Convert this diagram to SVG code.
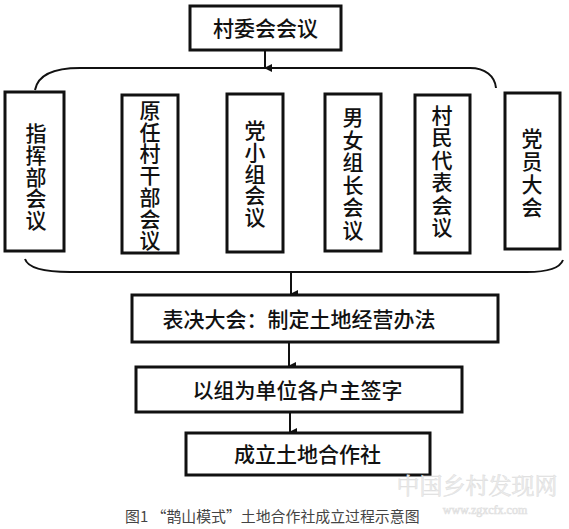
<svg xmlns="http://www.w3.org/2000/svg" width="569" height="529" viewBox="0 0 569 529">
<defs>
<marker id="ah" markerWidth="8" markerHeight="8" refX="4" refY="7" orient="auto" markerUnits="userSpaceOnUse">
<path d="M0,0 L8,0 L4,8 Z" fill="#111"/>
</marker>
<style>
.box{fill:#fff;stroke:#111;stroke-width:3}
.t{font-family:"Noto Sans CJK SC","Liberation Sans",sans-serif;font-size:21px;font-weight:500;fill:#111;text-anchor:middle}
.v{font-family:"Noto Sans CJK SC","Liberation Sans",sans-serif;font-size:21px;font-weight:500;fill:#111;text-anchor:middle}
.c{fill:none;stroke:#111;stroke-width:2}
</style>
</defs>
<rect width="569" height="529" fill="#fff"/>
<g id="connectors">
<line class="c" x1="265" y1="51" x2="265" y2="68" marker-end="url(#ah)"/>
<path class="c" d="M35,90 C38,74 55,68 80,68 L470,68 C485,68 495,76 496,88"/>
<path class="c" d="M25,259 C28,268 45,272 70,272 L527,272 C548,272 560,268 563,260"/>
<line class="c" x1="291" y1="272" x2="291" y2="294" marker-end="url(#ah)"/>
<line class="c" x1="289" y1="343" x2="289" y2="366" marker-end="url(#ah)"/>
<line class="c" x1="290" y1="413" x2="290" y2="432" marker-end="url(#ah)"/>
</g>
<g id="n-top"><rect class="box" x="190" y="6" width="151" height="44"/><text class="t" x="265.5" y="35.5">村委会会议</text></g>
<g id="n1"><rect class="box" x="5" y="92" width="59" height="159"/>
<text class="v" x="36" y="141"><tspan x="36">指</tspan><tspan x="36" dy="21.8">挥</tspan><tspan x="36" dy="21.8">部</tspan><tspan x="36" dy="21.8">会</tspan><tspan x="36" dy="21.8">议</tspan></text></g>
<g id="n2"><rect class="box" x="122" y="95" width="56" height="158"/>
<text class="v" x="150" y="118"><tspan x="150">原</tspan><tspan x="150" dy="21.7">任</tspan><tspan x="150" dy="21.7">村</tspan><tspan x="150" dy="21.7">干</tspan><tspan x="150" dy="21.7">部</tspan><tspan x="150" dy="21.7">会</tspan><tspan x="150" dy="21.7">议</tspan></text></g>
<g id="n3"><rect class="box" x="227" y="94" width="56" height="158"/>
<text class="v" x="255" y="138"><tspan x="255">党</tspan><tspan x="255" dy="21.8">小</tspan><tspan x="255" dy="21.8">组</tspan><tspan x="255" dy="21.8">会</tspan><tspan x="255" dy="21.8">议</tspan></text></g>
<g id="n4"><rect class="box" x="325" y="94" width="56" height="157"/>
<text class="v" x="353" y="125"><tspan x="353">男</tspan><tspan x="353" dy="22.6">女</tspan><tspan x="353" dy="22.6">组</tspan><tspan x="353" dy="22.6">长</tspan><tspan x="353" dy="22.6">会</tspan><tspan x="353" dy="22.6">议</tspan></text></g>
<g id="n5"><rect class="box" x="415" y="95" width="55" height="158"/>
<text class="v" x="442" y="123"><tspan x="442">村</tspan><tspan x="442" dy="22.4">民</tspan><tspan x="442" dy="22.4">代</tspan><tspan x="442" dy="22.4">表</tspan><tspan x="442" dy="22.4">会</tspan><tspan x="442" dy="22.4">议</tspan></text></g>
<g id="n6"><rect class="box" x="505" y="93" width="55" height="156"/>
<text class="v" x="532" y="146"><tspan x="532">党</tspan><tspan x="532" dy="23">员</tspan><tspan x="532" dy="23">大</tspan><tspan x="532" dy="23">会</tspan></text></g>
<g id="n-vote"><rect class="box" x="132" y="295" width="366" height="47"/><text class="t" x="299" y="327" font-size="22">表决大会：制定土地经营办法</text></g>
<g id="n-sign"><rect class="box" x="136" y="367" width="326" height="45"/><text class="t" x="297.5" y="397.5" font-size="21.5">以组为单位各户主签字</text></g>
<g id="n-coop"><rect class="box" x="186" y="433" width="244" height="42"/><text class="t" x="307.5" y="462" font-size="22">成立土地合作社</text></g>
<g id="watermark" fill="#eeeeee" stroke="#e0e0e0" stroke-width="0.6" font-family="'Noto Serif CJK SC','Noto Sans CJK SC',serif">
<text x="477" y="494" font-size="23" text-anchor="middle">中国乡村发现网</text>
<text x="485" y="514" font-size="12" text-anchor="middle" font-family="'Liberation Serif',serif">www.zgxcfx.com</text>
</g>
<text x="125" y="522" font-family="'Noto Sans CJK SC','Liberation Sans',sans-serif" font-size="14.9" fill="#444">图1 “鹊山模式”土地合作社成立过程示意图</text>
</svg>
